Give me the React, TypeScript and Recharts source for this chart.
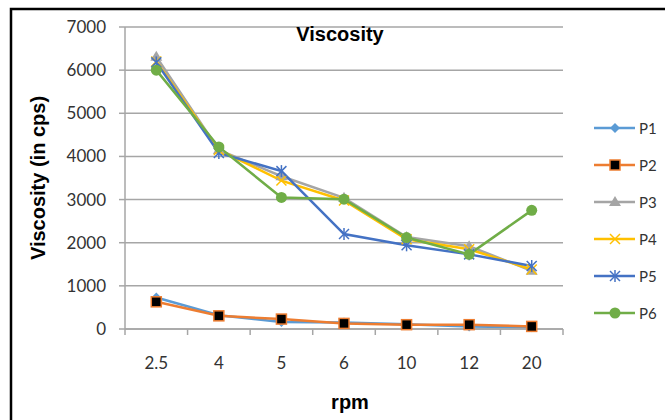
import React from "react";
import { LineChart, Line, XAxis, YAxis, CartesianGrid } from "recharts";

const RPM = ["2.5", "4", "5", "6", "10", "12", "20"];
const P1 = [730, 320, 160, 150, 110, 60, 40];
const P2 = [630, 305, 230, 130, 100, 100, 60];
const P3 = [6310, 4150, 3540, 3040, 2130, 1920, 1350];
const P4 = [6200, 4150, 3440, 2980, 2080, 1850, 1380];
const P5 = [6180, 4080, 3660, 2200, 1940, 1730, 1460];
const P6 = [6000, 4220, 3050, 3010, 2120, 1730, 2750];
const Y_TICKS = [0, 1000, 2000, 3000, 4000, 5000, 6000, 7000];

const W = 665;
const H = 420;
const M = { top: 27, right: 102, left: 0, bottom: 51 };
const Y_W = 125;
const PLOT_W = W - M.left - M.right - Y_W;
const HALF_BAND = PLOT_W / RPM.length / 2;

const AXIS_GRAY = "#a6a6a6";
const TICK_COLOR = "#333";
const TICK_FONT = "Lato, 'Liberation Sans', sans-serif";
const BOLD_FONT = "'Liberation Sans', Arial, sans-serif";

type Shape = "diamond" | "square" | "triangle" | "x" | "star" | "circle";

const SERIES: { key: string; values: number[]; color: string; shape: Shape }[] = [
    { key: "P1", values: P1, color: "#5b9bd5", shape: "diamond" },
    { key: "P2", values: P2, color: "#ed7d31", shape: "square" },
    { key: "P3", values: P3, color: "#a5a5a5", shape: "triangle" },
    { key: "P4", values: P4, color: "#ffc000", shape: "x" },
    { key: "P5", values: P5, color: "#4472c4", shape: "star" },
    { key: "P6", values: P6, color: "#70ad47", shape: "circle" },
];

const data = RPM.map((rpm, i) => {
    const row: Record<string, string | number> = { rpm };
    SERIES.forEach(s => { row[s.key] = s.values[i]; });
    return row;
});

function Marker({ cx, cy, shape, color }: { cx: number; cy: number; shape: Shape; color: string }) {
    switch (shape) {
        case "diamond":
            return <polygon points={`${cx},${cy - 5} ${cx + 5},${cy} ${cx},${cy + 5} ${cx - 5},${cy}`} fill={color} />;
        case "square":
            return <rect x={cx - 5} y={cy - 5} width={10} height={10} fill="#000" stroke={color} strokeWidth={1.5} />;
        case "triangle":
            return <polygon points={`${cx},${cy - 6} ${cx + 6},${cy + 4} ${cx - 6},${cy + 4}`} fill={color} />;
        case "x":
            return (
                <g stroke={color} strokeWidth={1.5}>
                    <line x1={cx - 5} y1={cy - 5} x2={cx + 5} y2={cy + 5} />
                    <line x1={cx - 5} y1={cy + 5} x2={cx + 5} y2={cy - 5} />
                </g>
            );
        case "star":
            return (
                <g stroke={color} strokeWidth={1.5}>
                    <line x1={cx - 5} y1={cy - 5} x2={cx + 5} y2={cy + 5} />
                    <line x1={cx - 5} y1={cy + 5} x2={cx + 5} y2={cy - 5} />
                    <line x1={cx} y1={cy - 6} x2={cx} y2={cy + 6} />
                </g>
            );
        default:
            return <circle cx={cx} cy={cy} r={5.5} fill={color} />;
    }
}

// Excel-style category axis: tick marks sit between categories, labels in the middle
function XTick(props: any) {
    const { x, y, payload, index } = props;
    const axisY = y - 8;
    const last = index === RPM.length - 1;
    return (
        <g>
            <line x1={x - HALF_BAND} y1={axisY} x2={x - HALF_BAND} y2={axisY + 6} stroke={AXIS_GRAY} strokeWidth={1.5} />
            {last && <line x1={x + HALF_BAND} y1={axisY} x2={x + HALF_BAND} y2={axisY + 6} stroke={AXIS_GRAY} strokeWidth={1.5} />}
            <text x={x} y={axisY + 33} textAnchor="middle" dominantBaseline="central"
                  fill={TICK_COLOR} fontSize={17} fontFamily={TICK_FONT}>{payload.value}</text>
        </g>
    );
}

function LegendBox() {
    return (
        <svg width={75} height={220} style={{ position: "absolute", left: 590, top: 115 }}>
            {SERIES.map((s, i) => {
                const y = 13 + i * 37;
                return (
                    <g key={s.key}>
                        <line x1={4} y1={y} x2={45} y2={y} stroke={s.color} strokeWidth={2.5} />
                        <Marker cx={25} cy={y} shape={s.shape} color={s.color} />
                        <text x={49} y={y} dominantBaseline="central" fontSize={15}
                              fontFamily={TICK_FONT} fill={TICK_COLOR}>{s.key}</text>
                    </g>
                );
            })}
        </svg>
    );
}

export default function App() {
    return (
        <div style={{ position: "absolute", left: 0, top: 0, width: W, height: H, background: "#fff" }}>
            <LineChart width={W} height={H} data={data} margin={M}>
                <rect x={11} y={9} width={W} height={H} fill="none" stroke="#000" strokeWidth={2.5} />
                <CartesianGrid vertical={false} stroke={AXIS_GRAY} strokeWidth={1.5} />
                <XAxis dataKey="rpm" scale="band" height={40} axisLine={{ stroke: AXIS_GRAY, strokeWidth: 1.5 }}
                       tickLine={false} tickSize={6} tickMargin={2} tick={<XTick />} interval={0} />
                <YAxis width={Y_W} domain={[0, 7000]} ticks={Y_TICKS} interval={0}
                       axisLine={{ stroke: AXIS_GRAY, strokeWidth: 1.5 }}
                       tickLine={{ stroke: AXIS_GRAY, strokeWidth: 1.5 }} tickSize={6} tickMargin={13}
                       tick={{ fill: TICK_COLOR, fontSize: 17, fontFamily: TICK_FONT }} />
                {SERIES.map(s => (
                    <Line key={s.key} dataKey={s.key} stroke={s.color} strokeWidth={2.5}
                          isAnimationActive={false}
                          dot={(p: any) => <Marker key={`${s.key}-${p.index}`} cx={p.cx} cy={p.cy} shape={s.shape} color={s.color} />} />
                ))}
                <text x={340} y={34} textAnchor="middle" dominantBaseline="central" fontSize={20}
                      fontWeight="bold" fontFamily={BOLD_FONT} fill="#000">Viscosity</text>
                <text x={350} y={402} textAnchor="middle" dominantBaseline="central" fontSize={20}
                      fontWeight="bold" fontFamily={BOLD_FONT} fill="#000">rpm</text>
                <text x={38} y={178} textAnchor="middle" dominantBaseline="central" fontSize={20}
                      fontWeight="bold" fontFamily={BOLD_FONT} fill="#000"
                      transform="rotate(-90 38 178)">Viscosity (in cps)</text>
            </LineChart>
            <LegendBox />
        </div>
    );
}
